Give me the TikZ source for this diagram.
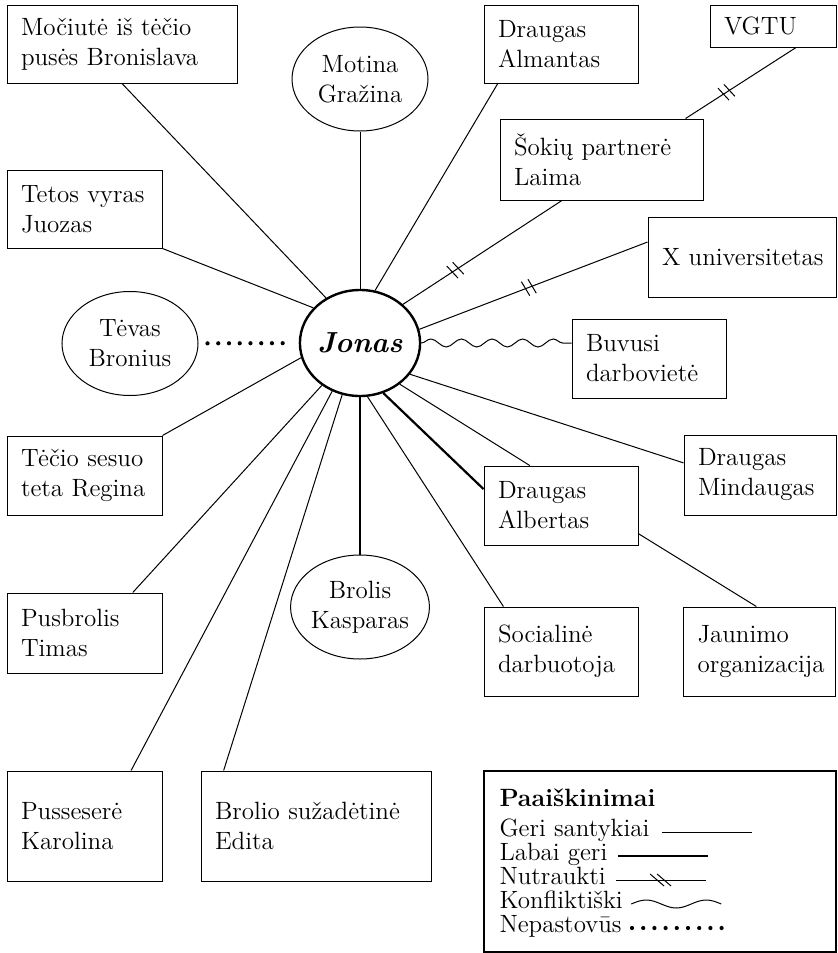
\documentclass[tikz,border=0pt]{standalone}
\usepackage{tikz}
\usetikzlibrary{shapes.geometric,decorations.pathmorphing,decorations.markings}

\tikzset{
	box/.style={draw, rectangle, align=left, inner xsep=7pt, inner ysep=2pt},
	oval/.style={draw, ellipse, align=center, inner sep=0pt, minimum width=68pt, minimum height=52pt},
	good/.style={line width=0.5pt},
	verygood/.style={line width=1.1pt},
	conflict/.style={decorate, decoration={snake, segment length=15.3pt, amplitude=2pt}},
	unstable/.style={line width=2.1pt, line cap=round, dash pattern=on 0pt off #1},
	cut/.style={postaction={decorate, decoration={markings, mark=at position #1 with {\draw[line width=0.5pt] (-2.45pt,4pt) -- (-1.05pt,-4pt) (1.05pt,4pt) -- (2.45pt,-4pt);}}}}
}

\begin{document}
\begin{tikzpicture}[x=0.5pt, y=-0.5pt, line width=0.5pt, font=\fontsize{12.5}{15}\selectfont]
		%%%%% START %%%%%
		\useasboundingbox (0,0) rectangle (837,953);
		
		\node[oval, line width=1.2pt, minimum width=59pt, minimum height=53pt, font=\fontsize{14.5}{17}\selectfont\bfseries\itshape] (jonas) at (360,343) {Jonas};
		
		\node[oval] (motina) at (360,79) {Motina\\Gražina};
		\node[oval] (tevas) at (130,343.5) {Tėvas\\Bronius};
		\node[oval] (brolis) at (360,607) {Brolis\\Kasparas};
		
		\node[box, text width=101pt, minimum height=39pt] (moc) at (122,44) {Močiutė iš tėčio\\pusės Bronislava};
		\node[box, text width=63.5pt, minimum height=39pt] (juozas) at (84.5,209) {Tetos vyras\\Juozas};
		\node[box, text width=63.5pt, minimum height=39.5pt] (regina) at (84.5,475.5) {Tėčio sesuo\\teta Regina};
		\node[box, text width=63.5pt, minimum height=40pt] (timas) at (84.5,633) {Pusbrolis\\Timas};
		\node[box, text width=63.5pt, minimum height=55pt] (karolina) at (84.5,826) {Pusseserė\\Karolina};
		\node[box, text width=101pt, minimum height=55pt] (edita) at (316,826) {Brolio sužadėtinė\\Edita};
		
		\node[box, text width=63pt, minimum height=39pt] (almantas) at (561,44) {Draugas\\Almantas};
		\node[box, text width=49pt, minimum height=21pt] (vgtu) at (773,26) {VGTU};
		\node[box, text width=87.5pt, minimum height=40.5pt] (laima) at (601.5,159.5) {Šokių partnerė\\Laima};
		\node[box, text width=80pt, minimum height=40pt] (xuni) at (742,257) {\mbox{X universitetas}};
		\node[box, text width=63pt, minimum height=39.5pt] (buvusi) at (649,358.5) {Buvusi\\darbovietė};
		\node[box, text width=62pt, minimum height=40pt] (mindaugas) at (760,475) {Draugas\\Mindaugas};
		\node[box, text width=63pt, minimum height=39.5pt] (albertas) at (561,505.5) {Draugas\\Albertas};
		\node[box, text width=63pt, minimum height=44.5pt] (social) at (561,651.5) {Socialinė\\darbuotoja};
		\node[box, text width=62pt, minimum height=44.5pt] (jaunimo) at (759.5,651.5) {Jaunimo\\organizacija};
		
		\draw[good] (moc.south) -- (jonas.127);
		\draw[good] (motina) -- (jonas);
		\draw[good] (almantas.212) -- (jonas.74);
		\draw[good] (juozas.south east) -- (jonas.143);
		\draw[unstable=5.37pt, shorten <=4.5pt, shorten >=4pt] (tevas) -- (jonas);
		\draw[good] (regina.north east) -- (jonas.194);
		\draw[good] (timas.40) -- (jonas.228);
		\draw[good] (karolina.50) -- (jonas.240);
		\draw[good] (edita.149) -- (jonas.251);
		\draw[verygood] (jonas) -- (brolis);
		\draw[good] (jonas.278) -- (social.142);
		\draw[verygood] (jonas.295) -- (albertas.168);
		\draw[good] (jonas.314) -- (albertas.128);
		\draw[good] (jonas.328) -- (mindaugas.171);
		\draw[good] (albertas.340) -- (jaunimo.94);
		\draw[conflict] (jonas.east) -- (jonas.east -| buvusi.west);
		\draw[good, cut=0.48] (jonas.13) -- (xuni.171);
		\draw[good, cut=0.33] (jonas.42) -- (laima.226);
		\draw[good, cut=0.37] (laima.26) -- (vgtu.317);
		
		% legenda
		\node[draw, line width=1.1pt, minimum width=176pt, minimum height=90.5pt, inner sep=0pt] (legend) at (660,861.5) {};
		\node[anchor=base west, inner sep=0pt, font=\fontsize{12.5}{15}\selectfont\bfseries] (ltitle) at (499,806) {Paaiškinimai};
		\node[anchor=base west, inner sep=0pt] (lgood) at (499,836) {Geri santykiai};
		\node[anchor=base west, inner sep=0pt] (lvgood) at (499,860) {Labai geri};
		\node[anchor=base west, inner sep=0pt] (lcut) at (499,884) {Nutraukti};
		\node[anchor=base west, inner sep=0pt] (lconf) at (499,908) {Konfliktiški};
		\node[anchor=base west, inner sep=0pt] (lunst) at (499,932) {Nepastovūs};
		
		\draw[good] ([shift={(6pt,2pt)}]lgood.base east) -- ++(45pt,0);
		\draw[verygood] ([shift={(5pt,2pt)}]lvgood.base east) -- ++(45pt,0);
		\draw[good] ([shift={(5pt,2pt)}]lcut.base east) coordinate (c0) -- ++(45pt,0);
		\draw[good] ([shift={(17pt,3pt)}]c0) -- ++(7pt,-6pt) ([shift={(20.5pt,3pt)}]c0) -- ++(7pt,-6pt);
		\draw[good] ([shift={(4pt,2pt)}]lconf.base east) sin ++(7.5pt,2pt) cos ++(7.5pt,-2pt) sin ++(7.5pt,-2pt) cos ++(7.5pt,2pt) sin ++(7.5pt,2pt) cos ++(7.5pt,-2pt);
		\draw[unstable=5.6pt] ([shift={(5pt,2pt)}]lunst.base east) -- ++(45pt,0);
		
		%%%%% END %%%%%
	\end{tikzpicture}
\end{document}
